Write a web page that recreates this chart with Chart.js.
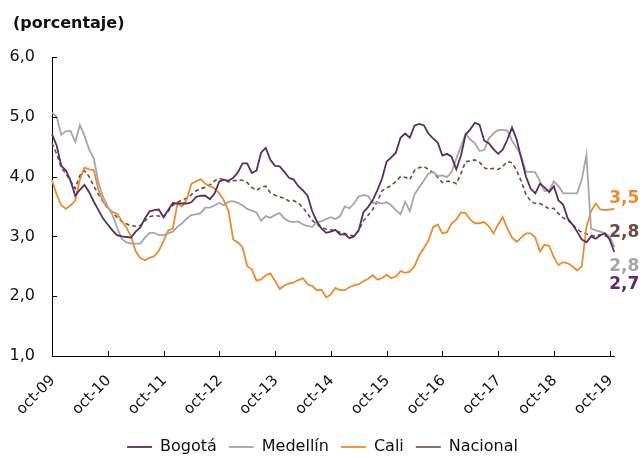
<!DOCTYPE html>
<html>
<head>
<meta charset="utf-8">
<script src="https://cdn.jsdelivr.net/npm/chart.js@4.4.1/dist/chart.umd.min.js"></script>
<style>
  body { margin: 0; background: #fff; }
</style>
</head>
<body>
<canvas id="chart" width="643" height="458"></canvas>
<script>
// Monthly series, oct-09 .. nov-19 (percent)
const monthNames = ['ene', 'feb', 'mar', 'abr', 'may', 'jun', 'jul', 'ago', 'sep', 'oct', 'nov', 'dic'];
const months = [];
for (let k = 0; k < 122; k++) {
    const m = (9 + k) % 12;
    const yy = 9 + Math.floor((9 + k) / 12);
    months.push(monthNames[m] + '-' + String(yy).padStart(2, '0'));
}

const yTicks = [1, 2, 3, 4, 5, 6];
const seriesNames = ['Bogotá', 'Medellín', 'Cali', 'Nacional'];

const bogota = [
    4.71, 4.52, 4.18, 4.10, 3.93, 3.68, 3.78, 3.86, 3.74, 3.58,
    3.44, 3.30, 3.20, 3.10, 3.02, 3.00, 2.99, 2.98, 3.08, 3.15,
    3.30, 3.42, 3.44, 3.45, 3.32, 3.44, 3.56, 3.55, 3.55, 3.55,
    3.57, 3.66, 3.68, 3.68, 3.62, 3.72, 3.92, 3.95, 3.93, 3.98,
    4.07, 4.22, 4.22, 4.06, 4.10, 4.40, 4.48, 4.28, 4.18, 4.17,
    4.08, 3.98, 3.95, 3.84, 3.77, 3.68, 3.42, 3.25, 3.13, 3.06,
    3.08, 3.11, 3.03, 3.04, 2.97, 3.00, 3.10, 3.40, 3.49, 3.60,
    3.77, 3.96, 4.25, 4.32, 4.40, 4.65, 4.72, 4.65, 4.85, 4.88,
    4.86, 4.72, 4.64, 4.57, 4.35, 4.38, 4.33, 4.12, 4.35, 4.70,
    4.79, 4.90, 4.87, 4.60, 4.56, 4.46, 4.38, 4.45, 4.62, 4.82,
    4.62, 4.30, 4.00, 3.80, 3.72, 3.88, 3.82, 3.74, 3.84, 3.60,
    3.53, 3.30, 3.20, 3.08, 2.95, 2.90, 3.00, 2.96, 3.02, 3.05,
    2.95, 2.74
];
const medellin = [
    5.07, 5.00, 4.70, 4.76, 4.76, 4.58, 4.86, 4.68, 4.45, 4.30,
    3.90, 3.66, 3.50, 3.36, 3.15, 2.96, 2.90, 2.88, 2.88, 2.88,
    2.98, 3.06, 3.06, 3.02, 3.02, 3.05, 3.08, 3.16, 3.22, 3.30,
    3.36, 3.37, 3.39, 3.48, 3.48, 3.52, 3.56, 3.52, 3.58, 3.59,
    3.56, 3.52, 3.46, 3.43, 3.40, 3.26, 3.34, 3.31, 3.36, 3.39,
    3.30, 3.25, 3.24, 3.25, 3.20, 3.17, 3.16, 3.24, 3.25, 3.29,
    3.32, 3.29, 3.34, 3.50, 3.47, 3.55, 3.67, 3.69, 3.68, 3.56,
    3.57, 3.55, 3.57, 3.52, 3.44, 3.37, 3.58, 3.42, 3.70, 3.82,
    3.93, 4.05, 4.08, 4.01, 4.02, 3.99, 4.08, 4.30, 4.50, 4.72,
    4.62, 4.56, 4.43, 4.44, 4.64, 4.72, 4.78, 4.78, 4.77, 4.60,
    4.48, 4.34, 4.08, 4.08, 4.07, 3.92, 3.76, 3.77, 3.92, 3.84,
    3.72, 3.72, 3.72, 3.72, 3.95, 4.36, 3.13, 3.10, 3.08, 3.05,
    3.00, 2.82
];
const cali = [
    3.94, 3.70, 3.52, 3.46, 3.52, 3.60, 3.95, 4.15, 4.12, 4.11,
    3.78, 3.58, 3.48, 3.41, 3.38, 3.26, 3.15, 3.00, 2.75, 2.64,
    2.60, 2.64, 2.67, 2.76, 2.92, 3.10, 3.13, 3.55, 3.50, 3.62,
    3.88, 3.92, 3.96, 3.88, 3.84, 3.80, 3.72, 3.60, 3.42, 2.95,
    2.90, 2.82, 2.50, 2.45, 2.26, 2.28, 2.35, 2.38, 2.26, 2.12,
    2.18, 2.21, 2.23, 2.27, 2.30, 2.20, 2.17, 2.10, 2.11, 1.98,
    2.03, 2.14, 2.10, 2.10, 2.15, 2.18, 2.20, 2.25, 2.29, 2.35,
    2.28, 2.30, 2.36, 2.30, 2.33, 2.42, 2.39, 2.41, 2.50, 2.68,
    2.80, 2.93, 3.15, 3.20, 3.05, 3.07, 3.22, 3.28, 3.40, 3.39,
    3.28, 3.22, 3.22, 3.24, 3.17, 3.05, 3.20, 3.32, 3.13, 2.98,
    2.91, 2.98, 3.05, 3.05, 2.98, 2.75, 2.86, 2.84, 2.65, 2.52,
    2.57, 2.55, 2.50, 2.43, 2.50, 3.15, 3.42, 3.55, 3.45, 3.44,
    3.45, 3.46
];
const nacional = [
    4.56, 4.38, 4.15, 4.05, 3.92, 3.80, 4.02, 4.10, 4.00, 3.84,
    3.70, 3.58, 3.47, 3.40, 3.32, 3.25, 3.21, 3.18, 3.17, 3.18,
    3.26, 3.33, 3.35, 3.34, 3.32, 3.42, 3.52, 3.57, 3.61, 3.64,
    3.70, 3.76, 3.80, 3.82, 3.86, 3.93, 3.97, 3.95, 3.91, 3.93,
    3.94, 3.94, 3.90, 3.82, 3.77, 3.82, 3.84, 3.73, 3.69, 3.66,
    3.64, 3.59, 3.60, 3.56, 3.48, 3.38, 3.27, 3.20, 3.15, 3.12,
    3.11, 3.09, 3.07, 3.05, 3.02, 3.01, 3.10, 3.26, 3.35, 3.45,
    3.58, 3.76, 3.81, 3.85, 3.92, 4.00, 3.99, 3.95, 4.10, 4.15,
    4.17, 4.12, 4.07, 3.99, 3.90, 3.92, 3.92, 3.88, 4.05, 4.25,
    4.26, 4.28, 4.24, 4.15, 4.12, 4.14, 4.12, 4.17, 4.25, 4.23,
    4.10, 3.92, 3.70, 3.59, 3.55, 3.55, 3.51, 3.46, 3.47, 3.38,
    3.31, 3.27, 3.20, 3.12, 3.07, 3.04, 3.02, 3.00, 3.03, 3.01,
    2.98, 2.83
];

const PURPLE = '#5a2d64';
const GRAY = '#a6a6a6';
const ORANGE = '#ef8a2c';
const BROWN = '#6f4a3a';
const FONT = "'DejaVu Sans', Verdana, sans-serif";

const fmt = v => v.toFixed(1).replace('.', ',');

// end-of-line value labels, placed in the right margin (y in axis units)
const endLabels = [
    { data: cali, color: ORANGE, at: 3.64 },
    { data: nacional, color: BROWN, at: 3.06 },
    { data: medellin, color: GRAY, at: 2.50 },
    { data: bogota, color: PURPLE, at: 2.19 }
];

const decor = {
    id: 'decor',
    afterLayout(chart) {
        // nudge the legend row lower and right, like the original
        const lg = chart.legend;
        lg.top += 7;
        lg.bottom += 7;
        lg.left += 14;
        lg.right += 14;
    },
    afterDraw(chart) {
        const { ctx, chartArea, scales: { x, y } } = chart;
        ctx.save();
        // inner tick marks
        ctx.strokeStyle = '#000';
        ctx.lineWidth = 1;
        ctx.beginPath();
        months.forEach((m, i) => {
            if (i > 0 && m.startsWith('oct')) {
                const px = Math.round(x.getPixelForValue(i)) + 0.5;
                ctx.moveTo(px, chartArea.bottom);
                ctx.lineTo(px, chartArea.bottom - 5);
            }
        });
        yTicks.forEach(v => {
            const py = Math.round(y.getPixelForValue(v)) + 0.5;
            ctx.moveTo(chartArea.left, py);
            ctx.lineTo(chartArea.left + 5, py);
        });
        ctx.stroke();

        // title
        ctx.fillStyle = '#111';
        ctx.font = 'bold 16px ' + FONT;
        ctx.textBaseline = 'middle';
        ctx.textAlign = 'left';
        ctx.fillText('(porcentaje)', 13, 24);

        // end labels
        ctx.font = 'bold 17px ' + FONT;
        endLabels.forEach(l => {
            ctx.fillStyle = l.color;
            ctx.fillText(fmt(l.data[l.data.length - 1]), chartArea.right - 5, y.getPixelForValue(l.at));
        });
        ctx.restore();
    }
};

new Chart(document.getElementById('chart'), {
    type: 'line',
    data: {
        labels: months,
        datasets: [
            { label: seriesNames[0], data: bogota, borderColor: PURPLE, backgroundColor: PURPLE, borderWidth: 1.8 },
            { label: seriesNames[1], data: medellin, borderColor: GRAY, backgroundColor: GRAY, borderWidth: 1.8 },
            { label: seriesNames[2], data: cali, borderColor: ORANGE, backgroundColor: ORANGE, borderWidth: 1.8 },
            { label: seriesNames[3], data: nacional, borderColor: BROWN, backgroundColor: BROWN, borderWidth: 1.6, borderDash: [4, 3] }
        ]
    },
    options: {
        responsive: false,
        animation: false,
        elements: { point: { radius: 0 }, line: { tension: 0, fill: false } },
        layout: { padding: { top: 57, right: 26, left: 0, bottom: 0 } },
        scales: {
            x: {
                offset: false,
                grid: { display: false, drawTicks: false },
                border: { display: true, color: '#000', width: 1 },
                ticks: {
                    autoSkip: false, minRotation: 45, maxRotation: 45, padding: 16, labelOffset: 1,
                    color: '#111', font: { family: FONT, size: 15 },
                    callback: (v, i) => months[i].startsWith('oct') ? months[i] : ''
                },
                afterFit: s => { s.height = 64; }
            },
            y: {
                min: 1, max: 6,
                grid: { display: false, drawTicks: false },
                border: { display: true, color: '#000', width: 1 },
                ticks: {
                    stepSize: 1, padding: 17,
                    color: '#111', font: { family: FONT, size: 16 },
                    callback: v => fmt(v)
                },
                afterFit: s => { s.width = 52; }
            }
        },
        plugins: {
            legend: {
                position: 'bottom',
                labels: {
                    usePointStyle: true, pointStyle: 'line', pointStyleWidth: 25, padding: 12,
                    color: '#111', font: { family: FONT, size: 16 }
                }
            },
            tooltip: { enabled: false }
        }
    },
    plugins: [decor]
});
</script>
</body>
</html>
